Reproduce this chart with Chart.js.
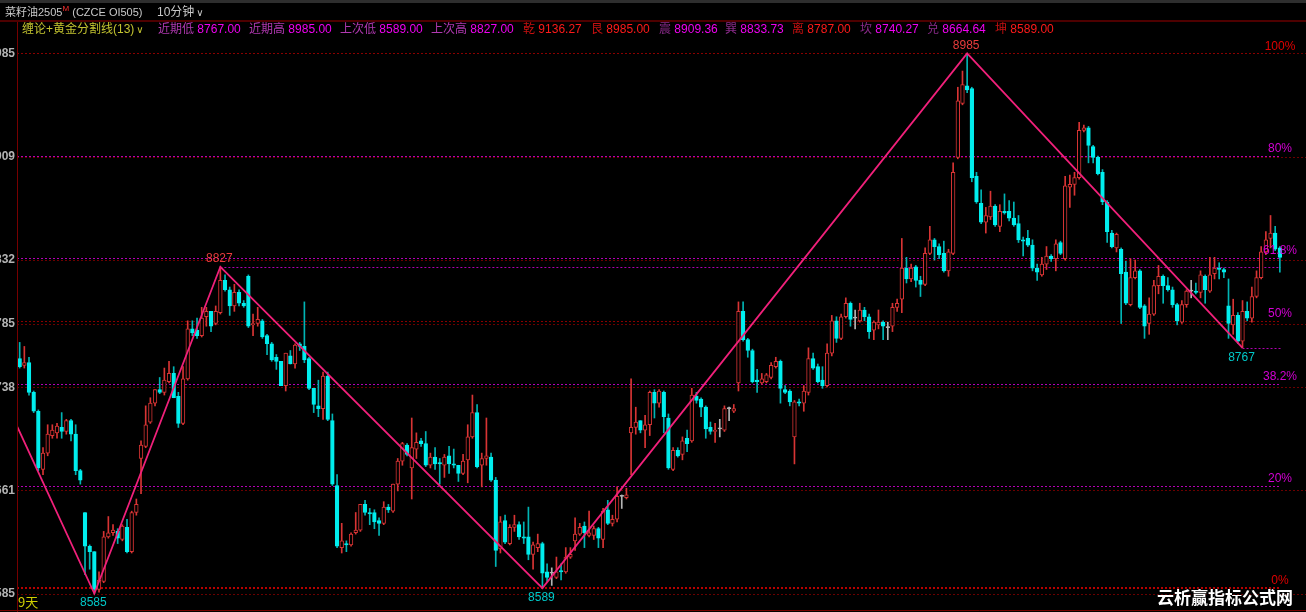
<!DOCTYPE html>
<html><head><meta charset="utf-8">
<script src="https://cdn.jsdelivr.net/npm/chart.js@4.4.1/dist/chart.umd.min.js"></script>
<style>
html,body{margin:0;padding:0;background:#000;overflow:hidden}
#wrap{position:relative;width:1306px;height:612px;background:#000}
#c{position:absolute;left:0;top:0}
.t{position:absolute;white-space:nowrap;font-family:"Liberation Sans","Noto Sans CJK SC",sans-serif;font-size:12px;line-height:14px}
.g{color:#c8c8c8}
.sup{color:#ff3030;font-size:8px;vertical-align:top;line-height:8px}
.chev{font-family:"DejaVu Sans",sans-serif;font-size:10px;margin-left:2px}
.lm{color:#b038b0}.vm{color:#f000f0}
.lp{color:#8a2a8a}
.lr{color:#c81010}.vr{color:#ff1a1a}
#bar{position:absolute;left:0;top:0;width:1306px;height:3px;background:#2e2e2e}
#sep{position:absolute;left:0;top:20px;width:1306px;height:2px;background:#4e0000}
#wm{position:absolute;left:1157px;top:587px;font:bold 17px "Noto Sans CJK SC",sans-serif;color:#fff;line-height:20px;text-shadow:0 0 2px #000,1px 1px 1px #000}
</style></head>
<body>
<div id="wrap">
<canvas id="c" width="1306" height="612"></canvas>
<div id="bar"></div>
<div id="sep"></div>
<div class="t" style="left:5px;top:5px;font-size:11px"><span class="g">菜籽油2505</span><span class="sup">M</span><span class="g"> (CZCE OI505)</span></div>
<div class="t" style="left:157px;top:5px"><span class="g">10分钟</span><span class="chev g">∨</span></div>
<div class="t" style="left:22px;top:22px;color:#c4c430">缠论+黄金分割线(13)<span class="chev">∨</span></div>
<div id="hdr"></div>
<div id="wm">云析赢指标公式网</div>
</div>
<script>
// ---------- data ----------
const opens = [
8759,8754,8756,8734,8720,8677,8689,8702,8704,8708,
8705,8713,8703,8676,8645,8620,8616,8588,8594,8627,
8630,8631,8625,8634,8616,8645,8685,8694,8712,8726,
8736,8734,8742,8748,8731,8711,8744,8781,8780,8776,
8790,8794,8785,8793,8817,8810,8798,8808,8800,8820,
8784,8785,8787,8776,8770,8760,8757,8739,8761,8755,
8770,8768,8759,8737,8724,8722,8746,8713,8665,8619,
8622,8621,8630,8632,8651,8645,8645,8639,8637,8649,
8646,8666,8683,8695,8678,8692,8698,8696,8680,8686,
8682,8680,8687,8681,8680,8674,8684,8701,8719,8680,
8685,8686,8669,8618,8639,8622,8634,8636,8627,8627,
8614,8619,8622,8601,8600,8597,8602,8601,8612,8624,
8629,8635,8628,8628,8633,8625,8647,8637,8640,8657,
8656,8704,8708,8713,8706,8710,8734,8726,8734,8715,
8677,8691,8688,8700,8698,8731,8729,8723,8708,8705,
8707,8706,8722,8720,8741,8794,8773,8765,8743,8741,
8742,8745,8753,8757,8736,8735,8701,8727,8726,8734,
8759,8753,8743,8739,8763,8787,8774,8790,8800,8789,
8787,8795,8790,8780,8784,8786,8782,8783,8797,8803,
8826,8818,8827,8817,8814,8837,8847,8842,8837,8824,
8837,8908,8948,8961,8959,8894,8874,8860,8864,8872,
8857,8868,8868,8863,8859,8847,8848,8843,8826,8821,
8829,8835,8833,8845,8833,8886,8888,8893,8928,8930,
8916,8908,8897,8875,8852,8841,8840,8823,8799,8819,
8824,8798,8785,8792,8813,8820,8813,8810,8799,8786,
8799,8809,8809,8808,8820,8809,8822,8826,8825,8798,
8784,8791,8772,8794,8789,8805,8819,8838,8848,8852,
8841];
const highs = [
8771,8768,8760,8735,8721,8693,8710,8710,8711,8719,
8714,8714,8710,8677,8645,8621,8616,8601,8631,8642,
8636,8633,8636,8640,8646,8655,8698,8724,8730,8736,
8745,8752,8757,8753,8734,8753,8787,8787,8789,8797,
8797,8794,8798,8827,8821,8812,8814,8810,8802,8821,
8792,8797,8788,8777,8771,8762,8757,8763,8765,8770,
8771,8801,8760,8737,8743,8749,8749,8718,8673,8637,
8624,8630,8645,8651,8654,8648,8647,8641,8653,8651,
8666,8685,8697,8696,8715,8704,8700,8705,8689,8693,
8685,8688,8694,8692,8680,8688,8710,8732,8725,8689,
8715,8689,8671,8642,8643,8636,8643,8638,8638,8649,
8623,8629,8623,8607,8604,8612,8607,8619,8619,8641,
8637,8638,8646,8635,8634,8648,8654,8643,8664,8658,
8663,8744,8723,8713,8717,8735,8736,8736,8735,8718,
8693,8693,8701,8706,8737,8734,8730,8724,8712,8711,
8714,8724,8723,8725,8801,8801,8774,8766,8751,8748,
8748,8756,8760,8758,8739,8736,8728,8729,8739,8767,
8763,8755,8753,8770,8791,8790,8792,8804,8801,8795,
8800,8797,8792,8787,8795,8787,8786,8800,8803,8848,
8834,8829,8828,8820,8841,8857,8848,8844,8846,8840,
8904,8960,8972,8985,8960,8897,8884,8871,8883,8873,
8873,8881,8876,8875,8865,8849,8854,8847,8829,8834,
8842,8836,8847,8846,8894,8895,8897,8934,8932,8931,
8917,8909,8899,8876,8854,8852,8841,8831,8833,8832,
8825,8799,8804,8817,8828,8821,8819,8812,8800,8802,
8810,8817,8815,8824,8821,8834,8834,8830,8826,8818,
8803,8793,8802,8801,8812,8824,8842,8853,8865,8857,
8842];
const lows = [
8752,8752,8732,8719,8676,8673,8687,8700,8700,8700,
8703,8698,8673,8666,8599,8603,8585,8586,8593,8626,
8628,8622,8624,8615,8615,8643,8659,8693,8711,8724,
8733,8732,8741,8730,8708,8710,8743,8776,8774,8775,
8783,8779,8784,8792,8809,8791,8794,8798,8797,8782,
8776,8783,8774,8762,8757,8751,8739,8735,8755,8752,
8765,8756,8736,8719,8716,8714,8713,8665,8619,8615,
8616,8620,8629,8631,8643,8636,8633,8628,8636,8645,
8645,8661,8680,8687,8655,8685,8694,8679,8678,8677,
8666,8671,8674,8678,8668,8673,8667,8700,8678,8664,
8680,8668,8605,8615,8622,8621,8631,8625,8622,8610,
8603,8616,8589,8594,8591,8596,8595,8600,8611,8617,
8628,8619,8627,8625,8619,8619,8636,8635,8638,8648,
8655,8673,8703,8704,8693,8702,8715,8723,8704,8677,
8676,8686,8684,8690,8697,8726,8716,8700,8703,8697,
8701,8705,8713,8719,8735,8772,8760,8741,8734,8740,
8741,8744,8752,8726,8733,8724,8681,8724,8720,8732,
8751,8741,8737,8738,8761,8771,8773,8789,8783,8781,
8786,8787,8774,8773,8781,8773,8773,8779,8794,8793,
8815,8816,8812,8805,8813,8836,8832,8833,8823,8820,
8836,8907,8947,8956,8890,8874,8859,8852,8862,8857,
8853,8866,8861,8857,8845,8835,8842,8824,8817,8820,
8825,8831,8824,8836,8832,8871,8880,8892,8927,8904,
8904,8895,8873,8845,8841,8838,8785,8799,8798,8818,
8796,8774,8777,8791,8807,8800,8809,8797,8784,8785,
8797,8804,8807,8804,8800,8808,8818,8818,8819,8774,
8777,8770,8767,8787,8786,8804,8818,8836,8841,8839,
8823];
const closes = [
8753,8756,8734,8720,8678,8689,8703,8706,8709,8705,
8713,8703,8676,8669,8620,8616,8588,8595,8627,8630,
8632,8626,8635,8616,8645,8651,8695,8710,8726,8736,
8734,8743,8748,8730,8711,8744,8781,8778,8776,8789,
8794,8783,8794,8817,8810,8798,8808,8800,8798,8783,
8785,8788,8775,8770,8758,8757,8739,8763,8755,8769,
8768,8758,8737,8725,8722,8746,8714,8666,8620,8624,
8621,8629,8632,8651,8645,8644,8638,8637,8649,8647,
8666,8683,8696,8688,8693,8697,8696,8680,8686,8681,
8681,8686,8681,8680,8674,8683,8701,8719,8679,8685,
8687,8669,8617,8638,8623,8634,8636,8627,8626,8614,
8621,8622,8600,8597,8600,8601,8601,8612,8614,8629,
8634,8630,8630,8633,8626,8646,8637,8640,8657,8657,
8658,8708,8712,8706,8710,8734,8726,8735,8716,8678,
8691,8687,8698,8696,8732,8728,8723,8707,8705,8706,
8707,8722,8722,8722,8794,8773,8765,8742,8742,8744,
8747,8754,8757,8737,8734,8727,8727,8726,8735,8759,
8752,8742,8739,8763,8787,8774,8790,8800,8788,8789,
8795,8790,8779,8786,8786,8783,8782,8797,8800,8826,
8818,8826,8817,8814,8837,8847,8842,8836,8824,8838,
8897,8950,8962,8958,8893,8875,8860,8865,8872,8858,
8868,8867,8863,8858,8847,8846,8843,8826,8823,8829,
8835,8833,8844,8837,8887,8888,8893,8928,8930,8917,
8908,8896,8875,8853,8842,8851,8822,8800,8819,8824,
8797,8783,8792,8813,8820,8813,8810,8799,8787,8799,
8809,8809,8808,8821,8810,8821,8826,8825,8823,8785,
8791,8772,8794,8789,8805,8819,8838,8847,8852,8840,
8834];

// zigzag (缠论 pivots); first point is where the incoming leg enters the view
const zzIdx = [-0.57, 16, 43, 112, 203, 262];
const zzVal = [8709, 8585, 8827, 8589, 8985, 8767];

// golden-section levels
const fibLow = 8589, fibHigh = 8985;
const fibRatios = [1, 0.809, 0.618, 0.5, 0.382, 0.191, 0];
const fibLabels = ["100%", "80%", "61.8%", "50%", "38.2%", "20%", "0%"];

// y-axis tick values
const tickValues = [8585, 8661.4, 8737.8, 8785, 8832.2, 8908.6, 8985];

// header items
const hdrNames  = ["近期低","近期高","上次低","上次高","乾","艮","震","巽","离","坎","兑","坤"];
const hdrValues = [8767, 8985, 8589, 8827, 9136.27, 8985, 8909.36, 8833.73, 8787, 8740.27, 8664.64, 8589];

// ---------- styles / layout ----------
const hdrX = [158, 249, 340, 431, 523, 591, 659, 725, 792, 860, 927, 995];
const hdrStyle = ["m","m","m","m","r","r","p","p","r","p","p","r"];
const fibStyle = [
  {c:"#8a0000", w:1, t:"#e00000"},
  {c:"#b400b4", w:1, t:"#d400d4"},
  {c:"#b400b4", w:1, t:"#d400d4"},
  {c:"#8a0000", w:1, t:"#d400d4"},
  {c:"#b400b4", w:1, t:"#d400d4"},
  {c:"#b400b4", w:1, t:"#d400d4"},
  {c:"#b80000", w:2, t:"#e00000"}
];
const UP = "#d83434", DN = "#00eeee", DNW = "#00b4b4", FLAT = "#b4b4b4";
const GRID = "#6a0000", FRAME = "#760000", ZZ = "#f0207a";
const FONT = '12px "Liberation Sans", "Noto Sans CJK SC", sans-serif';

// header row 2
const hdr = document.getElementById('hdr');
hdrNames.forEach((n, i) => {
  const d = document.createElement('div');
  d.className = 't';
  d.style.left = hdrX[i] + 'px';
  d.style.top = '22px';
  const s = hdrStyle[i];
  const lc = s === 'm' ? 'lm' : s === 'p' ? 'lp' : 'lr';
  const vc = s === 'r' ? 'vr' : 'vm';
  d.innerHTML = '<span class="' + lc + '">' + n + '</span> <span class="' + vc + '">' + hdrValues[i].toFixed(2) + '</span>';
  hdr.appendChild(d);
});

// ---------- chart ----------
const N = Math.min(opens.length, highs.length, lows.length, closes.length);
const idx = Array.from({length: N}, (_, i) => i);
const dir = i => closes[i] > opens[i] ? 1 : closes[i] < opens[i] ? -1 : 0;
const bodyData = idx.map(i => ({x: i, y: [opens[i], closes[i]]}));
const wickData = idx.map(i => ({x: i, y: [Math.min(lows[i], opens[i], closes[i]), Math.max(highs[i], opens[i], closes[i])]}));
const bodyFill = idx.map(i => dir(i) > 0 ? '#000' : dir(i) < 0 ? DN : FLAT);
const bodyBorder = idx.map(i => dir(i) > 0 ? UP : dir(i) < 0 ? DN : FLAT);
const wickCol = idx.map(i => dir(i) > 0 ? UP : dir(i) < 0 ? DNW : FLAT);

const xMin = -0.572, xMax = 275.6;
const yMax = 8996.48, yMin = 8572.78;

const overlay = {
  id: 'overlay',
  beforeDatasetsDraw(chart) {
    const {ctx, chartArea: a, scales: {x, y}} = chart;
    const W = chart.width;
    const hl = (x1, x2, v, color, lw) => {
      const p = y.getPixelForValue(v);
      const py = lw === 2 ? Math.round(p) : Math.round(p) + 0.5;
      ctx.beginPath(); ctx.setLineDash([2, 2]); ctx.lineWidth = lw; ctx.strokeStyle = color;
      ctx.moveTo(x1, py); ctx.lineTo(x2, py); ctx.stroke();
    };
    ctx.save();
    tickValues.forEach(v => hl(a.left, W, v, GRID, 1));
    const xEnd = x.getPixelForValue(N - 1) + 1;
    fibRatios.forEach((r, i) => {
      const v = fibLow + r * (fibHigh - fibLow);
      hl(a.left, xEnd, v, fibStyle[i].c, fibStyle[i].w);
    });
    // extension of the last high (8827) and the latest low (8767)
    [2, 5].forEach(j => hl(x.getPixelForValue(zzIdx[j]), xEnd, zzVal[j], '#b000b0', 1));
    ctx.restore();
  },
  afterDatasetsDraw(chart) {
    const {ctx, scales: {x, y}} = chart;
    ctx.save();
    ctx.font = FONT;
    ctx.textAlign = 'center';
    ctx.textBaseline = 'middle';
    for (let i = 1; i < zzIdx.length; i++) {
      const hi = zzVal[i] > zzVal[i - 1];
      const px = x.getPixelForValue(zzIdx[i]);
      const py = y.getPixelForValue(zzVal[i]);
      ctx.fillStyle = hi ? '#e83c3c' : '#00c8c8';
      ctx.fillText(String(zzVal[i]), px - 1, hi ? py - 8 : py + 9.5);
    }
    fibRatios.forEach((r, i) => {
      const v = fibLow + r * (fibHigh - fibLow);
      ctx.fillStyle = fibStyle[i].t;
      ctx.fillText(fibLabels[i], 1280, y.getPixelForValue(v) - 7);
    });
    ctx.textAlign = 'left';
    ctx.font = '13px "Noto Sans CJK SC", "Liberation Sans", sans-serif';
    ctx.fillStyle = '#d0d000';
    ctx.fillText('9天', 18, 602);
    ctx.restore();
  },
  afterDraw(chart) {
    const {ctx} = chart;
    ctx.save();
    ctx.strokeStyle = FRAME; ctx.lineWidth = 1; ctx.setLineDash([]);
    ctx.beginPath(); ctx.moveTo(17.5, 20); ctx.lineTo(17.5, 612); ctx.stroke();
    ctx.beginPath(); ctx.moveTo(0, 610.5); ctx.lineTo(chart.width, 610.5); ctx.stroke();
    ctx.restore();
  }
};

new Chart(document.getElementById('c'), {
  type: 'bar',
  data: {
    datasets: [
      {type: 'line', data: zzIdx.map((k, i) => ({x: k, y: zzVal[i]})), borderColor: ZZ, borderWidth: 1.8,
       pointRadius: 0, tension: 0, fill: false, order: 0},
      {type: 'bar', data: bodyData, backgroundColor: bodyFill, borderColor: bodyBorder, borderWidth: 1,
       borderSkipped: false, barThickness: 3.7, grouped: false, minBarLength: 1, order: 1},
      {type: 'bar', data: wickData, backgroundColor: wickCol, borderWidth: 0, barThickness: 1,
       grouped: false, order: 2}
    ]
  },
  options: {
    responsive: false, animation: false, devicePixelRatio: 1,
    layout: {padding: {top: 38, bottom: 2, left: 0, right: 0}},
    plugins: {legend: {display: false}, tooltip: {enabled: false}},
    scales: {
      x: {type: 'linear', display: false, min: xMin, max: xMax, offset: false, bounds: 'data'},
      y: {type: 'linear', position: 'left', min: yMin, max: yMax, bounds: 'data',
          grid: {display: false, drawTicks: false}, border: {display: false},
          afterBuildTicks: ax => { ax.ticks = tickValues.map(v => ({value: v})); },
          afterFit: ax => { ax.width = 17; ax.paddingTop = 0; ax.paddingBottom = 0; },
          ticks: {padding: 2, color: '#b4b4b4', font: {family: 'Liberation Sans', size: 12, weight: 'bold'},
                  callback: v => String(Math.round(v))}}
    }
  },
  plugins: [overlay]
});
</script>
</body></html>
